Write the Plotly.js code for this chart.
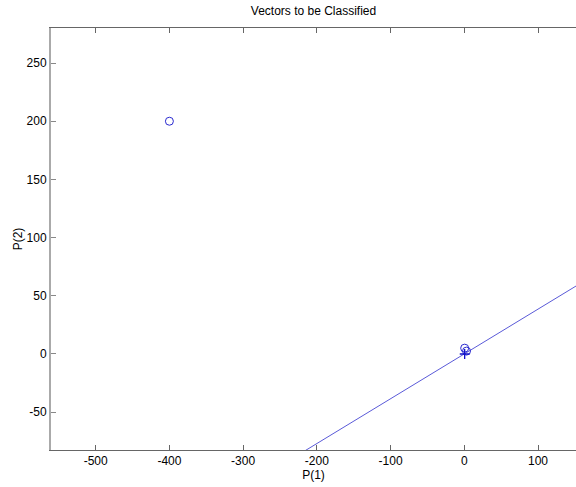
<!DOCTYPE html>
<html><head><meta charset="utf-8">
<script src="https://cdn.plot.ly/plotly-3.0.1.min.js"></script>
<style>html,body{margin:0;padding:0;overflow:hidden;background:#fff}</style>
</head><body><div id="chart" style="width:576px;height:487px"></div>
<script>
// Data
var circleX = [-400, 0.5, 3];
var circleY = [200, 5, 2.5];
var plusX = [0.5];
var plusY = [0];
var lineX = [-230, 170];
var lineY = [-88.5, 65.5];
var xTicks = [-500, -400, -300, -200, -100, 0, 100];
var yTicks = [-50, 0, 50, 100, 150, 200, 250];

var traces = [
  {x: lineX, y: lineY, mode: 'lines', type: 'scatter', line: {color: '#5a5ad8', width: 1}, hoverinfo: 'skip'},
  {x: circleX, y: circleY, mode: 'markers', type: 'scatter', cliponaxis: false,
   marker: {symbol: 'circle-open', size: 8, color: '#2a2ad0', line: {width: 1, color: '#2a2ad0'}}},
  {x: plusX, y: plusY, mode: 'markers', type: 'scatter', cliponaxis: false,
   marker: {symbol: 'cross-thin-open', size: 7, color: '#1010c8', line: {width: 1.3, color: '#1010c8'}}}
];
var layout = {
  width: 576, height: 487,
  margin: {l: 51, r: 0, t: 28, b: 37},
  paper_bgcolor: '#ffffff', plot_bgcolor: '#ffffff',
  showlegend: false,
  font: {family: 'Liberation Sans, Arial, sans-serif', size: 12, color: '#000'},
  title: {text: 'Vectors to be Classified', font: {size: 12, color: '#000'}, x: 0.5, xanchor: 'center', xref: 'paper', y: 0.977, yanchor: 'middle', yref: 'container'},
  xaxis: {
    range: [-560.6, 151.5], tickvals: xTicks, ticktext: xTicks.map(String),
    ticks: 'inside', ticklen: 5, tickcolor: '#666', tickwidth: 1,
    showline: true, linecolor: '#666', linewidth: 1, mirror: 'ticks',
    showgrid: false, zeroline: false,
    title: {text: 'P(1)', font: {size: 12}, standoff: 1},
    tickfont: {size: 12}
  },
  yaxis: {
    range: [-82.5, 280.1], tickvals: yTicks, ticktext: yTicks.map(String),
    ticks: 'inside', ticklen: 5, tickcolor: '#888', tickwidth: 1,
    showline: true, linecolor: '#aaa', linewidth: 2, mirror: false,
    showgrid: false, zeroline: false,
    title: {text: 'P(2)', font: {size: 12}, standoff: 1},
    tickfont: {size: 12}
  }
};
Plotly.newPlot('chart', traces, layout, {staticPlot: true, displayModeBar: false});
</script></body></html>
